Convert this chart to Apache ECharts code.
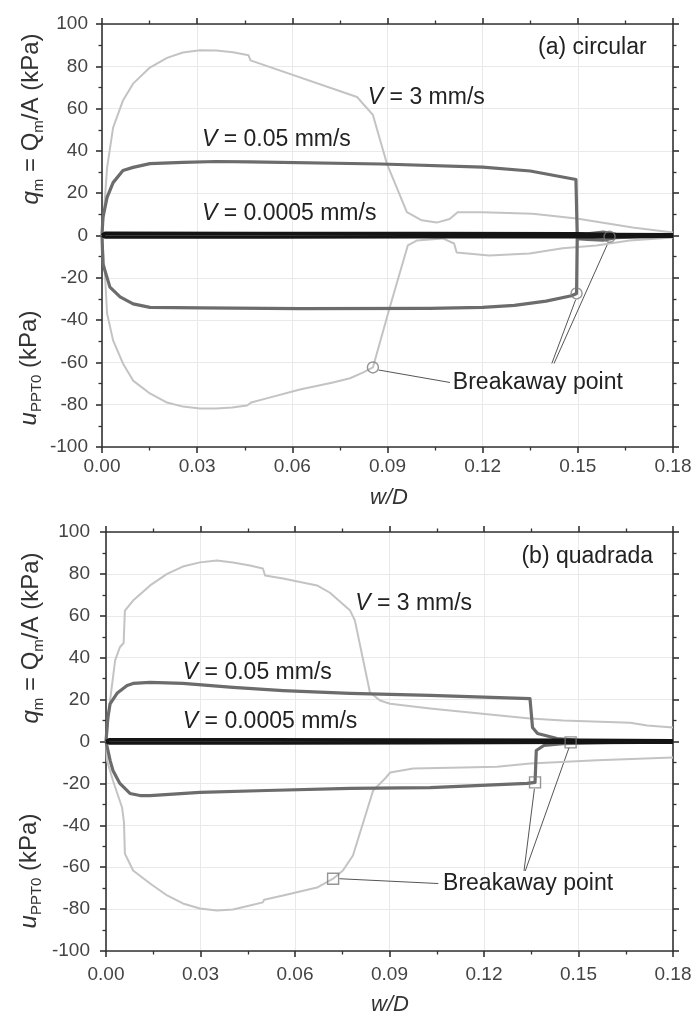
<!DOCTYPE html>
<html>
<head>
<meta charset="utf-8">
<script src="https://cdn.jsdelivr.net/npm/echarts@6/dist/echarts.min.js"></script>
<style>
  html, body { margin: 0; padding: 0; background: #ffffff; }
  #chart { width: 696px; height: 1019px; }
</style>
</head>
<body>
<div id="chart"></div>
<script>
// ---- axis ticks ----
const xTicks = [0, 0.03, 0.06, 0.09, 0.12, 0.15, 0.18];
const yTicks = [-100, -80, -60, -40, -20, 0, 20, 40, 60, 80, 100];

// ---- (a) circular : [w/D, kPa] ----
const circFastQ = [[0,0],[0.0008,15],[0.0016,32],[0.0035,51],[0.0066,63.8],[0.0098,71.8],[0.0151,79.4],[0.0205,84],[0.0255,86.5],[0.0309,87.6],[0.036,87.5],[0.0413,86.6],[0.0462,85.2],[0.0468,82.8],[0.0804,65.5],[0.0854,57],[0.0898,34],[0.0961,11],[0.1008,7.2],[0.1055,6.1],[0.1096,7.8],[0.1121,11],[0.12,11],[0.1358,10.3],[0.1496,8],[0.1673,3.8],[0.18,1.4]];
const circFastU = [[0,0],[0.001,-20],[0.0016,-36.9],[0.0035,-49.6],[0.0066,-60.5],[0.0098,-68.6],[0.0151,-74.7],[0.0205,-79],[0.0255,-80.9],[0.0309,-81.8],[0.036,-81.8],[0.041,-81.3],[0.0457,-80.4],[0.047,-79],[0.0519,-77],[0.0624,-72.8],[0.0728,-69.5],[0.0782,-67.5],[0.0822,-64.8],[0.0854,-62.4],[0.0907,-34],[0.0964,-4.7],[0.0992,-2.4],[0.1074,-1.4],[0.111,-3.8],[0.1118,-8],[0.122,-9.5],[0.1348,-8.5],[0.1452,-6],[0.1559,-4.7],[0.1663,-2.4],[0.18,-0.9]];
const circMidQ = [[0,0],[0.0003,8.5],[0.0016,18],[0.0035,25],[0.0066,30.7],[0.0098,32.2],[0.0151,34],[0.0255,34.6],[0.036,35],[0.0466,34.8],[0.088,33.8],[0.12,32.3],[0.135,30.5],[0.1494,26.5],[0.1498,0.5],[0.153,0.8],[0.158,1.6],[0.162,0.6],[0.168,0.4],[0.18,0.3]];
const circMidU = [[0,0],[0.0003,-13.4],[0.0025,-24.4],[0.0057,-29],[0.0098,-32.3],[0.0151,-34],[0.0309,-34.2],[0.0624,-34.6],[0.1033,-34.5],[0.12,-34],[0.13,-33],[0.14,-31],[0.148,-28.5],[0.1496,-27.4],[0.1498,-1.5],[0.153,-1.8],[0.158,-2.2],[0.162,-1],[0.17,-0.5],[0.18,-0.3]];
const circSlowQ = [[0,0],[0.001,1.1],[0.05,1.0],[0.1,0.9],[0.15,0.8],[0.16,0.5],[0.18,0.3]];
const circSlowU = [[0,0],[0.001,-0.7],[0.05,-0.7],[0.1,-0.6],[0.15,-0.6],[0.16,-0.6],[0.18,-0.3]];
const circBreak = [[0.0854,-62.4],[0.1496,-27.4],[0.16,-0.6]];

// ---- (b) quadrada : [w/D, kPa] ----
const quadFastQ = [[0,0],[0.0013,19.6],[0.0029,38.7],[0.0044,45],[0.0056,47],[0.006,62.5],[0.0086,67.3],[0.014,74.5],[0.0194,80],[0.0244,83.5],[0.0298,85.5],[0.0352,86.4],[0.0403,85.4],[0.0457,84],[0.0498,82.6],[0.0505,79.2],[0.0562,77.8],[0.067,74.5],[0.0711,71],[0.0775,62.5],[0.079,57.8],[0.0838,23.4],[0.087,19.6],[0.0902,18],[0.1029,15.8],[0.1187,13.4],[0.1346,11],[0.1451,10],[0.1664,9],[0.1718,7.6],[0.18,6.7]];
const quadFastU = [[0,0],[0.0003,-9],[0.0022,-18.6],[0.0051,-31.5],[0.0057,-38.5],[0.006,-53.5],[0.0086,-61.6],[0.014,-67.8],[0.0194,-73.5],[0.0244,-77.3],[0.0298,-79.7],[0.0352,-80.7],[0.0403,-80.2],[0.0457,-78.3],[0.0498,-76.8],[0.0502,-75.5],[0.0562,-73.5],[0.067,-69.7],[0.0721,-65.5],[0.0752,-61.6],[0.0784,-54.4],[0.0848,-23.4],[0.0886,-17.7],[0.0902,-14.8],[0.0975,-12.9],[0.1133,-12.4],[0.1241,-12],[0.1346,-10.5],[0.1559,-9],[0.18,-7.6]];
const quadMidQ = [[0,0],[0.0006,11.5],[0.0013,18],[0.0035,23],[0.0067,26.7],[0.0086,27.7],[0.014,28.2],[0.0244,27.7],[0.0403,25.8],[0.0562,24.3],[0.0775,23],[0.1029,22],[0.1346,20.5],[0.1354,6.7],[0.137,3.8],[0.1432,1.4],[0.15,0.5],[0.18,0.3]];
const quadMidU = [[0,0],[0.0013,-9],[0.0022,-13.8],[0.0044,-20],[0.0076,-24.8],[0.0108,-25.8],[0.014,-25.8],[0.0298,-24.3],[0.051,-23.4],[0.0775,-22.4],[0.1029,-22],[0.1337,-20],[0.1362,-19.5],[0.1366,-4.3],[0.139,-1.9],[0.1451,-1],[0.16,-0.5],[0.18,-0.3]];
const quadSlowQ = [[0,0],[0.001,0.8],[0.05,0.8],[0.1,0.7],[0.15,0.6],[0.18,0.4]];
const quadSlowU = [[0,0],[0.001,-0.7],[0.05,-0.7],[0.1,-0.6],[0.1475,-0.4],[0.18,-0.3]];
const quadBreak = [[0.0721,-65.5],[0.1362,-19.5],[0.1475,-0.4]];

// ---- styling ----
const FONT = "'Liberation Sans', Arial, Helvetica, sans-serif";
const AXIS_COLOR = '#333333';
const C_FAST = '#c3c3c3', C_MID = '#6c6c6c', C_SLOW = '#141414';
const NOTE_SIZE = 23, TITLE_SIZE = 24, TICK_SIZE = 19;

const panels = [
  {
    marker: 'circle',
    fastQ: circFastQ, fastU: circFastU, midQ: circMidQ, midU: circMidU, slowQ: circSlowQ, slowU: circSlowU,
    breaks: circBreak,
    grid: { left: 102, top: 24, width: 571, height: 423 },
    xLabelMargin: 10, yLabelMargin: 14,
    leaders: [[[0.0872,-63.6],[0.1097,-69.5]], [[0.1418,-60.5],[0.1493,-30.4]], [[0.1425,-60.5],[0.1596,-3.2]]],
    notes: [
      { text: '(a) circular', w: 0.1717, v: 88.9, align: 'right' },
      { text: '{i|V} = 3 mm/s', w: 0.0838, v: 65.2, align: 'left' },
      { text: '{i|V} = 0.05 mm/s', w: 0.0315, v: 45.4, align: 'left' },
      { text: '{i|V} = 0.0005 mm/s', w: 0.0315, v: 10.4, align: 'left' },
      { text: 'Breakaway point', w: 0.1106, v: -69.5, align: 'left' }
    ],
    qTitle: [31, 119], uTitle: [29, 368], xName: [389, 498]
  },
  {
    marker: 'rect',
    fastQ: quadFastQ, fastU: quadFastU, midQ: quadMidQ, midU: quadMidU, slowQ: quadSlowQ, slowU: quadSlowU,
    breaks: quadBreak,
    grid: { left: 106, top: 532, width: 567, height: 419 },
    xLabelMargin: 14, yLabelMargin: 16,
    leaders: [[[0.0741,-65.5],[0.1055,-67.8]], [[0.1327,-61.8],[0.1360,-22.6]], [[0.1331,-61.8],[0.1470,-2.9]]],
    notes: [
      { text: '(b) quadrada', w: 0.1737, v: 88.3, align: 'right' },
      { text: '{i|V} = 3 mm/s', w: 0.0791, v: 65.9, align: 'left' },
      { text: '{i|V} = 0.05 mm/s', w: 0.0244, v: 32.9, align: 'left' },
      { text: '{i|V} = 0.0005 mm/s', w: 0.0244, v: 9.5, align: 'left' },
      { text: 'Breakaway point', w: 0.107, v: -67.8, align: 'left' }
    ],
    qTitle: [31, 638], uTitle: [29, 871], xName: [390, 1005]
  }
];

const xMin = xTicks[0], xMax = xTicks[xTicks.length - 1], xStep = xTicks[1] - xTicks[0];
const yMin = yTicks[0], yMax = yTicks[yTicks.length - 1], yStep = yTicks[1] - yTicks[0];

function axisBase(gridIndex, position, withLabels, margin, isX) {
  return {
    type: 'value', gridIndex, position,
    min: isX ? xMin : yMin, max: isX ? xMax : yMax,
    interval: isX ? Number(xStep.toFixed(4)) : yStep,
    axisLine: { show: true, onZero: false, lineStyle: { color: AXIS_COLOR, width: 1.6 } },
    axisTick: { show: true, inside: false, length: 6, lineStyle: { color: AXIS_COLOR, width: 1.6 } },
    minorTick: { show: true, splitNumber: 2, length: 3.5, lineStyle: { color: AXIS_COLOR, width: 1.3 } },
    axisLabel: {
      show: withLabels, margin, fontSize: TICK_SIZE, fontFamily: FONT, color: '#444444',
      formatter: isX ? (v) => v.toFixed(2) : (v) => String(Math.round(v))
    },
    splitLine: { show: withLabels, lineStyle: { color: '#e9e9e9', width: 1 } },
    minorSplitLine: { show: false }
  };
}

const grids = [], xAxes = [], yAxes = [], series = [];
panels.forEach((p, i) => {
  grids.push(Object.assign({ containLabel: false }, p.grid));
  xAxes.push(axisBase(i, 'bottom', true, p.xLabelMargin, true));
  xAxes.push(axisBase(i, 'top', false, 0, true));
  yAxes.push(axisBase(i, 'left', true, p.yLabelMargin, false));
  yAxes.push(axisBase(i, 'right', false, 0, false));
  const ax = { xAxisIndex: 2 * i, yAxisIndex: 2 * i };
  const line = (data, color, width) => Object.assign({
    type: 'line', data, symbol: 'none', showSymbol: false, silent: true,
    lineStyle: { color, width, join: 'round' }, animation: false
  }, ax);
  series.push(line(p.fastQ, C_FAST, 2), line(p.fastU, C_FAST, 2));
  series.push(line(p.midQ, C_MID, 3.2), line(p.midU, C_MID, 3.2));
  series.push(line(p.slowQ, C_SLOW, 3.5), line(p.slowU, C_SLOW, 3.5));
  series.push(Object.assign({
    type: 'lines', coordinateSystem: 'cartesian2d', silent: true, animation: false,
    polyline: false, symbol: 'none',
    lineStyle: { color: '#555555', width: 1, opacity: 1, curveness: 0 },
    data: p.leaders.map(seg => ({ coords: seg }))
  }, ax));
  series.push(Object.assign({
    type: 'scatter', data: p.breaks, symbol: p.marker, symbolSize: 11, silent: true, animation: false,
    itemStyle: { color: 'rgba(255,255,255,0)', borderColor: '#7a7a7a', borderWidth: 1.4 }, z: 5
  }, ax));
});

const chart = echarts.init(document.getElementById('chart'), null, { renderer: 'canvas' });
chart.setOption({
  backgroundColor: '#ffffff',
  animation: false,
  grid: grids, xAxis: xAxes, yAxis: yAxes, series
});

// Text annotations and axis titles
const noteRich = {
  i: { fontStyle: 'italic', fontSize: NOTE_SIZE, fontFamily: FONT, fill: '#222222' }
};
const titleRich = {
  i: { fontStyle: 'italic', fontSize: TITLE_SIZE, fontFamily: FONT, fill: '#333333', lineHeight: 30 },
  n: { fontSize: TITLE_SIZE, fontFamily: FONT, fill: '#333333', lineHeight: 30 },
  s: { fontSize: 15, fontFamily: FONT, fill: '#333333', verticalAlign: 'bottom' }
};
const centred = { align: 'center', verticalAlign: 'middle', textAlign: 'center', textVerticalAlign: 'middle' };
const graphics = [];
panels.forEach((p, i) => {
  p.notes.forEach(n => {
    const pt = chart.convertToPixel({ xAxisIndex: 2 * i, yAxisIndex: 2 * i }, [n.w, n.v]);
    graphics.push({
      type: 'text', x: pt[0], y: pt[1], silent: true, z: 10,
      style: {
        text: n.text, fontSize: NOTE_SIZE, fontFamily: FONT, fill: '#222222',
        align: n.align, verticalAlign: 'middle', textAlign: n.align, textVerticalAlign: 'middle',
        rich: noteRich
      }
    });
  });
  graphics.push({
    type: 'text', x: p.qTitle[0], y: p.qTitle[1], rotation: Math.PI / 2, silent: true,
    style: Object.assign({
      text: '{i|q}{s|m}{n| = Q}{s|m}{n|/A (kPa)}', rich: titleRich,
      fontSize: TITLE_SIZE, fontFamily: FONT, fill: '#333333'
    }, centred)
  });
  graphics.push({
    type: 'text', x: p.uTitle[0], y: p.uTitle[1], rotation: Math.PI / 2, silent: true,
    style: Object.assign({
      text: '{i|u}{s|PPT0}{n| (kPa)}', rich: titleRich,
      fontSize: TITLE_SIZE, fontFamily: FONT, fill: '#333333'
    }, centred)
  });
  graphics.push({
    type: 'text', x: p.xName[0], y: p.xName[1], silent: true,
    style: Object.assign({
      text: 'w/D', fontSize: 22, fontStyle: 'italic', fontFamily: FONT, fill: '#333333'
    }, centred)
  });
});
chart.setOption({ graphic: graphics });
</script>
</body>
</html>
